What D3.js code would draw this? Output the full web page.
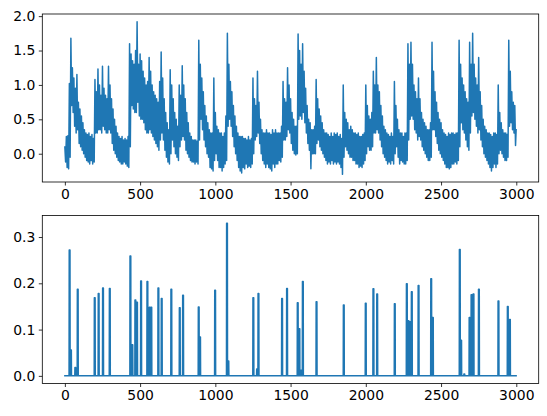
<!DOCTYPE html>
<html>
<head>
<meta charset="utf-8">
<script src="https://cdn.jsdelivr.net/npm/d3@7"></script>
<style>
  html, body { margin: 0; padding: 0; background: #fff; }
  svg { display: block; }
  text { font-family: "DejaVu Sans", sans-serif; }
</style>
</head>
<body>
<svg id="chart" width="547" height="416"></svg>
<script>
// ---- data ----
// number of samples in each series (sample index 0..2999)
const sampleCount = 3000;
// top series, read per 10-sample window (windows start at 0, 10, ... 2990):
// the highest value in the window and the lowest one
const windowSize = 10;
const topHigh = [
  // 0-90
  0.1, 0.25, 0.26, 1.02, 1.68, 1.25, 1.1, 0.95, 1.15, 0.75,
  // 100-190
  0.65, 0.55, 0.45, 0.35, 0.3, 0.28, 0.3, 0.25, 0.28, 0.22,
  // 200-290
  1.08, 0.9, 1.23, 1.0, 0.85, 1.27, 0.95, 0.85, 0.8, 1.27,
  // 300-390
  1.0, 0.8, 0.65, 0.5, 0.4, 0.3, 0.25, 0.22, 0.25, 0.2,
  // 400-490
  0.22, 0.2, 0.25, 1.6, 1.45, 1.35, 1.3, 1.5, 1.92, 1.3,
  // 500-590
  1.45, 1.35, 1.2, 1.1, 1.0, 1.05, 1.4, 1.2, 1.0, 0.9,
  // 600-690
  0.85, 0.8, 0.75, 1.05, 1.48, 1.1, 0.8, 0.6, 0.45, 0.35,
  // 700-790
  1.22, 1.0, 0.8, 0.6, 0.5, 0.4, 1.0, 0.85, 1.28, 1.0,
  // 800-890
  0.8, 0.6, 0.45, 0.3, 0.25, 0.2, 0.2, 0.2, 0.18, 1.65,
  // 900-990
  1.3, 1.1, 0.9, 0.7, 0.55, 0.45, 0.35, 0.3, 0.3, 1.1,
  // 1000-1090
  0.6, 0.4, 0.35, 0.3, 0.3, 0.25, 0.3, 0.55, 1.75, 1.3,
  // 1100-1190
  1.05, 0.9, 0.7, 0.55, 0.4, 0.3, 0.25, 0.25, 0.25, 0.22,
  // 1200-1290
  0.22, 0.2, 0.25, 0.2, 0.22, 1.1, 0.8, 0.7, 1.2, 0.75,
  // 1300-1390
  0.5, 0.35, 0.3, 0.3, 0.35, 0.3, 0.3, 0.28, 0.35, 0.3,
  // 1400-1490
  0.35, 0.3, 0.3, 0.3, 0.4, 1.05, 0.8, 0.75, 1.25, 1.0,
  // 1500-1590
  0.8, 0.6, 0.5, 0.4, 0.4, 1.74, 1.5, 1.3, 1.6, 1.2,
  // 1600-1690
  0.95, 0.7, 0.5, 0.45, 0.35, 0.35, 0.4, 1.08, 0.8, 0.65,
  // 1700-1790
  0.55, 0.45, 0.35, 0.3, 0.3, 0.28, 0.25, 0.3, 0.25, 0.3,
  // 1800-1890
  0.28, 0.3, 0.25, 0.28, 0.22, 1.0, 0.6, 0.5, 0.45, 0.35,
  // 1900-1990
  0.4, 0.35, 0.3, 0.3, 0.28, 0.3, 0.25, 0.25, 0.28, 0.3,
  // 2000-2090
  1.0, 0.7, 0.55, 0.5, 0.6, 1.2, 1.0, 1.4, 1.0, 0.9,
  // 2100-2190
  0.7, 0.55, 0.4, 0.35, 0.3, 0.28, 0.25, 0.3, 0.25, 1.05,
  // 2200-2290
  0.7, 0.5, 0.35, 0.3, 0.3, 0.25, 0.3, 0.3, 1.6, 1.3,
  // 2300-2390
  1.62, 1.3, 1.0, 0.9, 0.8, 1.1, 0.8, 0.6, 0.5, 0.45,
  // 2400-2490
  0.4, 0.35, 0.35, 0.45, 1.62, 1.2, 0.9, 0.75, 0.6, 0.5,
  // 2500-2590
  0.45, 0.35, 0.3, 0.28, 0.25, 0.3, 0.28, 0.3, 0.3, 0.28,
  // 2600-2690
  0.3, 0.3, 1.65, 1.3, 1.1, 1.0, 0.9, 0.8, 0.75, 1.62,
  // 2700-2790
  1.3, 1.75, 1.3, 1.1, 1.0, 1.4, 0.9, 0.7, 0.5, 0.4,
  // 2800-2890
  0.35, 0.3, 0.3, 0.28, 0.25, 0.3, 0.3, 0.28, 1.0, 0.6,
  // 2900-2990
  0.45, 0.35, 0.3, 0.3, 0.28, 1.65, 1.2, 0.9, 0.75, 0.7
];
const topLow = [
  // 0-90
  -0.12, -0.2, -0.22, -0.05, 0.7, 0.6, 0.4, 0.3, 0.35, 0.15,
  // 100-190
  0.1, 0.05, 0.0, -0.05, -0.1, -0.12, -0.15, -0.1, -0.15, -0.12,
  // 200-290
  0.3, 0.3, 0.35, 0.35, 0.3, 0.4, 0.35, 0.3, 0.3, 0.35,
  // 300-390
  0.3, 0.15, 0.05, 0.0, -0.05, -0.1, -0.12, -0.15, -0.15, -0.12,
  // 400-490
  -0.15, -0.18, -0.2, 0.1, 0.7, 0.65, 0.6, 0.6, 0.75, 0.55,
  // 500-590
  0.5, 0.5, 0.45, 0.35, 0.3, 0.3, 0.35, 0.3, 0.25, 0.2,
  // 600-690
  0.15, 0.1, 0.05, 0.2, 0.3, 0.2, 0.05, -0.05, -0.12, -0.15,
  // 700-790
  0.0, 0.2, 0.1, 0.0, -0.05, -0.1, 0.1, 0.2, 0.25, 0.2,
  // 800-890
  0.05, 0.0, -0.05, -0.1, -0.12, -0.12, -0.15, -0.12, -0.15, 0.2,
  // 900-990
  0.5, 0.35, 0.2, 0.1, 0.0, -0.05, -0.2, -0.22, -0.25, -0.1,
  // 1000-1090
  0.0, -0.1, -0.2, -0.2, -0.25, -0.2, -0.15, -0.1, 0.4, 0.5,
  // 1100-1190
  0.4, 0.25, 0.1, 0.0, -0.1, -0.2, -0.25, -0.28, -0.2, -0.22,
  // 1200-1290
  -0.15, -0.2, -0.18, -0.2, -0.15, 0.0, 0.2, 0.25, 0.3, 0.15,
  // 1300-1390
  0.0, -0.1, -0.15, -0.2, -0.15, -0.2, -0.22, -0.25, -0.15, -0.2,
  // 1400-1490
  -0.15, -0.15, -0.1, -0.12, -0.05, 0.2, 0.2, 0.25, 0.35, 0.3,
  // 1500-1590
  0.15, 0.05, 0.0, -0.02, 0.0, 0.5, 0.55, 0.5, 0.6, 0.45,
  // 1600-1690
  0.3, 0.15, 0.05, -0.22, 0.0, 0.0, 0.0, 0.15, 0.2, 0.1,
  // 1700-1790
  0.05, 0.0, -0.05, -0.1, -0.15, -0.12, -0.15, -0.1, -0.15, -0.12,
  // 1800-1890
  -0.15, -0.12, -0.15, -0.2, -0.3, -0.05, 0.1, 0.05, 0.0, -0.05,
  // 1900-1990
  -0.05, -0.1, -0.1, -0.15, -0.15, -0.2, -0.18, -0.2, -0.15, -0.1,
  // 2000-2090
  0.0, 0.1, 0.05, 0.05, 0.1, 0.3, 0.3, 0.35, 0.3, 0.2,
  // 2100-2190
  0.1, 0.0, -0.05, -0.1, -0.15, -0.12, -0.15, -0.1, -0.15, 0.0,
  // 2200-2290
  0.1, -0.05, -0.15, -0.1, -0.12, -0.15, -0.15, -0.1, 0.2, 0.5,
  // 2300-2390
  0.55, 0.5, 0.35, 0.3, 0.2, 0.25, 0.2, 0.1, 0.05, 0.0,
  // 2400-2490
  -0.05, -0.1, -0.1, -0.05, 0.35, 0.35, 0.25, 0.15, 0.05, 0.0,
  // 2500-2590
  -0.05, -0.1, -0.15, -0.2, -0.2, -0.22, -0.2, -0.15, -0.15, -0.12,
  // 2600-2690
  -0.15, -0.1, 0.1, 0.45, 0.35, 0.3, 0.2, 0.1, 0.05, 0.3,
  // 2700-2790
  0.55, 0.6, 0.5, 0.4, 0.3, 0.35, 0.2, 0.1, 0.0, -0.05,
  // 2800-2890
  -0.1, -0.15, -0.2, -0.25, -0.2, -0.15, -0.2, -0.15, 0.0, 0.05,
  // 2900-2990
  0.0, -0.05, -0.1, -0.1, -0.05, 0.4, 0.45, 0.35, 0.3, 0.12
];
// value of the final sample (index 2999)
const topLast = 0.35;

// bottom series: zero everywhere except short bursts
const spikeStart = [29, 38, 67, 83, 196, 222, 251, 296, 433, 446, 466, 477, 504, 546, 561, 572,
  619, 641, 705, 761, 783, 887, 896, 996, 1075, 1084, 1250, 1275, 1284,
  1441, 1474, 1545, 1556, 1569, 1579, 1670, 1851, 1997, 2048, 2073, 2190,
  2270, 2281, 2292, 2303, 2348, 2432, 2443, 2622, 2631, 2652, 2687, 2700, 2713, 2749,
  2879, 2941, 2955];
const spikeHeight = [0.272, 0.056, 0.018, 0.187, 0.169, 0.178, 0.19, 0.189, 0.259, 0.067, 0.164, 0.159, 0.205, 0.204, 0.148, 0.148,
  0.19, 0.167, 0.187, 0.147, 0.174, 0.149, 0.084, 0.185, 0.33, 0.032, 0.169, 0.015, 0.178,
  0.167, 0.189, 0.158, 0.102, 0.012, 0.204, 0.16, 0.153, 0.157, 0.188, 0.177, 0.156,
  0.199, 0.119, 0.117, 0.182, 0.195, 0.21, 0.126, 0.273, 0.077, 0.004, 0.126, 0.175, 0.177, 0.187,
  0.162, 0.15, 0.122];
const spikeLength = 5;

const xTicks = [0, 500, 1000, 1500, 2000, 2500, 3000];
const topYTicks = [0.0, 0.5, 1.0, 1.5, 2.0];
const bottomYTicks = [0.0, 0.1, 0.2, 0.3];

// ---- build series ----
// each window contributes its high (at the window start) and its low (mid-window)
const topSeries = [];
topHigh.forEach((h, i) => {
  topSeries.push({ x: i * windowSize, y: h });
  topSeries.push({ x: i * windowSize + windowSize / 2, y: topLow[i] });
});
topSeries.push({ x: sampleCount - 1, y: topLast });

const bottomSeries = [{ x: 0, y: 0 }];
spikeStart.forEach((s, i) => {
  bottomSeries.push({ x: s - 1, y: 0 });
  bottomSeries.push({ x: s, y: spikeHeight[i] });
  bottomSeries.push({ x: s + spikeLength, y: spikeHeight[i] });
  bottomSeries.push({ x: s + spikeLength + 1, y: 0 });
});
bottomSeries.push({ x: sampleCount - 1, y: 0 });

// ---- layout ----
const svg = d3.select("#chart");
const color = "#1f77b4";
const left = 42.3, right = 538.7;
const panels = [
  { top: 14, bottom: 182, data: topSeries, ticks: topYTicks, fmt: d3.format(".1f") },
  { top: 215.5, bottom: 383.5, data: bottomSeries, ticks: bottomYTicks, fmt: d3.format(".1f") }
];

function padded(lo, hi) {
  const m = (hi - lo) * 0.05;
  return [lo - m, hi + m];
}

const x = d3.scaleLinear()
  .domain(padded(0, sampleCount - 1))
  .range([left, right]);

panels.forEach(p => {
  const ext = d3.extent(p.data, d => d.y);
  const y = d3.scaleLinear().domain(padded(ext[0], ext[1])).range([p.bottom, p.top]);
  const g = svg.append("g");

  const line = d3.line().x(d => x(d.x)).y(d => y(d.y));
  g.append("path")
    .datum(p.data)
    .attr("d", line)
    .attr("fill", "none")
    .attr("stroke", color)
    .attr("stroke-width", 1.5)
    .attr("stroke-linejoin", "round")
    .attr("stroke-linecap", "square");

  const xAxis = g.append("g")
    .attr("transform", `translate(0,${p.bottom})`)
    .call(d3.axisBottom(x).tickValues(xTicks).tickSize(3.5).tickPadding(3.5).tickFormat(d3.format("d")));
  const yAxis = g.append("g")
    .attr("transform", `translate(${left},0)`)
    .call(d3.axisLeft(y).tickValues(p.ticks).tickSize(3.5).tickPadding(3.5).tickFormat(p.fmt));

  [xAxis, yAxis].forEach(a => {
    a.select(".domain").remove();
    a.selectAll(".tick line").attr("stroke", "#000").attr("stroke-width", 0.8);
    a.selectAll(".tick text")
      .attr("fill", "#000")
      .style("font-family", "'DejaVu Sans', sans-serif")
      .style("font-size", "13.9px");
  });

  g.append("rect")
    .attr("x", left).attr("y", p.top)
    .attr("width", right - left).attr("height", p.bottom - p.top)
    .attr("fill", "none")
    .attr("stroke", "#000")
    .attr("stroke-width", 0.8);
});
</script>
</body>
</html>
